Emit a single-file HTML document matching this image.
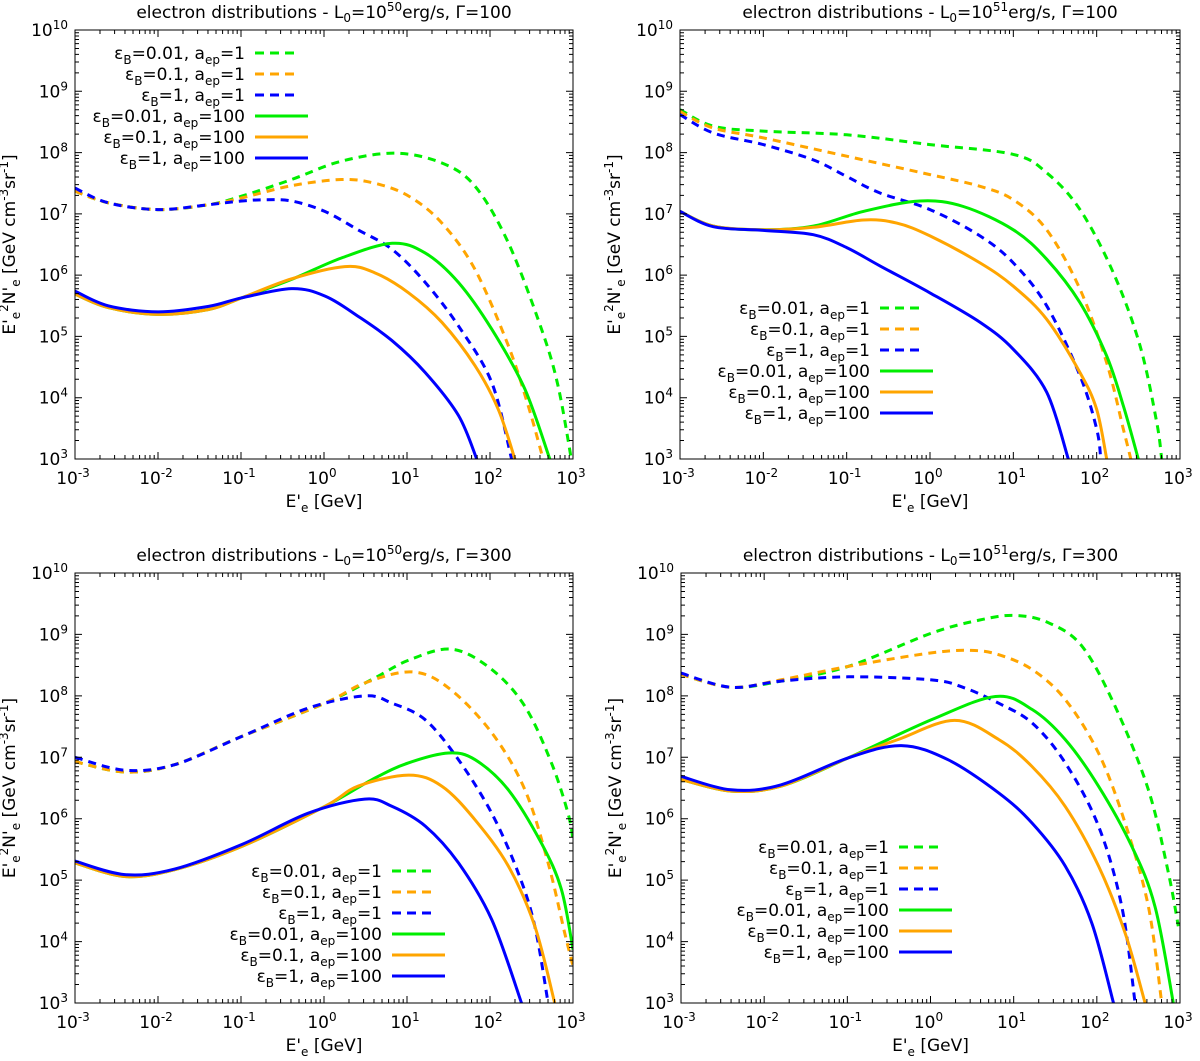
<!DOCTYPE html>
<html><head><meta charset="utf-8"><style>
html,body{margin:0;padding:0;background:#fff;}
svg{display:block;font-family:"DejaVu Sans","Liberation Sans",sans-serif;}
</style></head><body>
<svg id="fig" width="1200" height="1061" viewBox="0 0 1200 1061" xmlns="http://www.w3.org/2000/svg"></svg>
<script>
// ---- data: log10(E'/GeV) and log10(E'^2 N') per series ----
// Top-left: L0=1e50, Gamma=100
const tlE_g1=[-3,-2.6,-2,-1.39,-0.99,-0.39,0.21,0.86,1.42,1.82,2.22,2.62,2.82,2.98];
const tlY_g1=[7.37,7.18,7.07,7.15,7.29,7.56,7.86,7.99,7.83,7.45,6.53,5.12,4.19,3.0];
const tlE_o1=[-3,-2.6,-2,-1.39,-0.99,-0.39,0.21,0.61,1.02,1.42,1.82,2.22,2.46,2.64];
const tlY_o1=[7.37,7.18,7.07,7.15,7.26,7.46,7.56,7.5,7.29,6.85,6.09,4.85,3.87,3.0];
const tlE_b1=[-3,-2.6,-2,-1.39,-0.99,-0.71,-0.39,0.01,0.41,0.82,1.22,1.62,2.02,2.26];
const tlY_b1=[7.42,7.18,7.07,7.15,7.21,7.23,7.21,7.04,6.74,6.42,5.88,5.17,4.25,3.0];
const tlE_g2=[-3,-2.6,-2,-1.39,-0.99,-0.39,0.21,0.82,1.22,1.62,2.02,2.42,2.72];
const tlY_g2=[5.69,5.47,5.36,5.44,5.63,5.93,6.28,6.52,6.36,5.88,5.12,4.14,3.0];
const tlE_o2=[-3,-2.6,-2,-1.39,-0.99,-0.39,0.25,0.61,1.02,1.42,1.82,2.1,2.3];
const tlY_o2=[5.69,5.47,5.36,5.44,5.63,5.94,6.14,6.04,5.71,5.23,4.52,3.81,3.0];
const tlE_b2=[-3,-2.6,-2,-1.39,-0.99,-0.39,0.01,0.41,0.82,1.22,1.62,1.84];
const tlY_b2=[5.74,5.5,5.4,5.49,5.63,5.78,5.66,5.33,4.93,4.41,3.71,3.0];
// Top-right: L0=1e51, Gamma=100
const trE_g1=[-3,-2.6,-2,-1,0,1,1.4,1.8,2.2,2.52,2.72,2.78];
const trY_g1=[8.7,8.43,8.35,8.29,8.13,7.97,7.67,7.07,6.04,4.85,3.6,3.0];
const trE_o1=[-3,-2.6,-2,-1,0,0.6,1,1.4,1.8,2.12,2.32,2.41];
const trY_o1=[8.67,8.4,8.24,7.94,7.64,7.45,7.23,6.74,5.77,4.57,3.49,3.0];
const trE_b1=[-3,-2.6,-2,-1.4,-1,-0.6,0,0.6,1,1.4,1.8,2,2.05];
const trY_b1=[8.62,8.32,8.13,7.88,7.61,7.34,7.07,6.64,6.2,5.5,4.36,3.49,3.0];
const trE_g2=[-3,-2.6,-2,-1.4,-0.8,-0.12,0.4,1,1.4,1.8,2.12,2.32,2.5];
const trY_g2=[7.04,6.8,6.74,6.8,7.04,7.21,7.12,6.74,6.26,5.55,4.68,3.87,3.0];
const trE_o2=[-3,-2.6,-2,-1.4,-0.8,-0.4,0,0.6,1,1.4,1.8,2,2.12];
const trY_o2=[7.04,6.8,6.74,6.78,6.9,6.85,6.64,6.2,5.82,5.28,4.41,3.81,3.0];
const trE_b2=[-3,-2.6,-2,-1.4,-1,-0.6,0,0.6,1,1.4,1.66];
const trY_b2=[7.04,6.79,6.73,6.66,6.45,6.15,5.71,5.23,4.79,4.09,3.0];
// Bottom-left: L0=1e50, Gamma=300
const blE_g1=[-3,-2.4,-1.8,-0.99,0.01,0.61,1.02,1.54,2.02,2.42,2.74,2.94,3.0];
const blY_g1=[6.93,6.76,6.88,7.34,7.88,8.29,8.58,8.76,8.43,7.83,6.91,6.09,5.66];
const blE_o1=[-3,-2.4,-1.8,-0.99,0.01,0.49,1.06,1.5,2.02,2.42,2.7,2.9,3.0];
const blY_o1=[6.93,6.76,6.88,7.34,7.88,8.21,8.39,8.13,7.4,6.47,5.28,4.14,3.6];
const blE_b1=[-3,-2.4,-1.8,-0.99,-0.19,0.49,0.82,1.22,1.62,2.02,2.34,2.54,2.7];
const blY_b1=[7.0,6.79,6.88,7.34,7.8,8.0,7.88,7.61,6.96,6.09,5.12,4.25,3.0];
const blE_g2=[-3,-2.4,-1.8,-0.99,0.01,0.61,1.02,1.5,1.82,2.22,2.62,2.86,3.0];
const blY_g2=[5.28,5.06,5.17,5.55,6.2,6.66,6.91,7.07,6.96,6.47,5.6,4.85,3.87];
const blE_o2=[-3,-2.4,-1.8,-0.99,0.01,0.41,1.02,1.42,1.82,2.22,2.54,2.78];
const blY_o2=[5.28,5.06,5.17,5.55,6.2,6.53,6.71,6.53,5.98,5.23,4.25,3.0];
const blE_b2=[-3,-2.4,-1.8,-0.99,-0.19,0.49,0.82,1.22,1.62,2.02,2.38];
const blY_b2=[5.31,5.09,5.18,5.58,6.09,6.32,6.2,5.88,5.28,4.36,3.0];
// Bottom-right: L0=1e51, Gamma=300
const brE_g1=[-3,-2.4,-1.8,-0.99,0.01,0.61,1.02,1.42,1.82,2.22,2.62,2.86,2.98];
const brY_g1=[8.35,8.14,8.24,8.48,9.02,9.24,9.31,9.19,8.81,7.83,6.47,5.12,4.25];
const brE_o1=[-3,-2.4,-1.8,-0.99,0.01,0.49,0.82,1.22,1.62,2.02,2.34,2.62,2.78];
const brY_o1=[8.35,8.14,8.26,8.48,8.7,8.74,8.67,8.43,7.94,7.07,5.93,4.57,3.0];
const brE_b1=[-3,-2.4,-1.8,-0.99,0.01,0.41,0.82,1.22,1.62,2.02,2.3,2.46];
const brY_b1=[8.37,8.14,8.24,8.31,8.26,8.13,7.88,7.56,6.91,5.88,4.57,3.0];
const brE_g2=[-3,-2.4,-1.8,-0.99,0.01,0.78,1.22,1.62,2.02,2.42,2.7,2.92];
const brY_g2=[6.64,6.45,6.53,6.99,7.61,7.99,7.78,7.29,6.53,5.55,4.57,3.0];
const brE_o2=[-3,-2.4,-1.8,-0.99,-0.39,0.29,0.82,1.22,1.62,2.02,2.34,2.58];
const brY_o2=[6.64,6.45,6.53,6.99,7.29,7.6,7.29,6.85,6.2,5.23,4.14,3.0];
const brE_b2=[-3,-2.4,-1.8,-0.99,-0.35,0.21,0.82,1.22,1.62,1.94,2.2];
const brY_b2=[6.69,6.47,6.55,6.99,7.19,6.96,6.42,5.93,5.23,4.3,3.0];

const xTickLabels=["-3","-2","-1","0","1","2","3"];
const yTickLabels=["3","4","5","6","7","8","9","10"];
const legendLabels=[["0.01","1"],["0.1","1"],["1","1"],["0.01","100"],["0.1","100"],["1","100"]];
const colors=["#00ee00","#ffa500","#0000ff","#00ee00","#ffa500","#0000ff"];

const NS="http://www.w3.org/2000/svg";
const svg=document.getElementById('fig');
function mk(tag,attrs,parent){const e=document.createElementNS(NS,tag);for(const k in attrs)e.setAttribute(k,attrs[k]);(parent||svg).appendChild(e);return e;}

const panels=[
 {id:"tl",x0:75,x1:573,y0:30,y1:459,L:"50",G:"100",series:[[tlE_g1,tlY_g1],[tlE_o1,tlY_o1],[tlE_b1,tlY_b1],[tlE_g2,tlY_g2],[tlE_o2,tlY_o2],[tlE_b2,tlY_b2]],leg:{tx:245,y:53}},
 {id:"tr",x0:680,x1:1180,y0:30,y1:459,L:"51",G:"100",series:[[trE_g1,trY_g1],[trE_o1,trY_o1],[trE_b1,trY_b1],[trE_g2,trY_g2],[trE_o2,trY_o2],[trE_b2,trY_b2]],leg:{tx:870,y:308}},
 {id:"bl",x0:75,x1:573,y0:573,y1:1003,L:"50",G:"300",series:[[blE_g1,blY_g1],[blE_o1,blY_o1],[blE_b1,blY_b1],[blE_g2,blY_g2],[blE_o2,blY_o2],[blE_b2,blY_b2]],leg:{tx:382,y:871}},
 {id:"br",x0:681,x1:1180,y0:573,y1:1003,L:"51",G:"300",series:[[brE_g1,brY_g1],[brE_o1,brY_o1],[brE_b1,brY_b1],[brE_g2,brY_g2],[brE_o2,brY_o2],[brE_b2,brY_b2]],leg:{tx:889,y:847}}
];

function catmull(pts){
  let d="M"+pts[0][0].toFixed(1)+","+pts[0][1].toFixed(1);
  for(let i=0;i<pts.length-1;i++){
    const p0=pts[Math.max(0,i-1)],p1=pts[i],p2=pts[i+1],p3=pts[Math.min(pts.length-1,i+2)];
    const c1=[p1[0]+(p2[0]-p0[0])/6,p1[1]+(p2[1]-p0[1])/6];
    const c2=[p2[0]-(p3[0]-p1[0])/6,p2[1]-(p3[1]-p1[1])/6];
    d+=" C"+c1[0].toFixed(1)+","+c1[1].toFixed(1)+" "+c2[0].toFixed(1)+","+c2[1].toFixed(1)+" "+p2[0].toFixed(1)+","+p2[1].toFixed(1);
  }
  return d;
}

panels.forEach(function(p,pi){
  const g=mk('g',{});
  
  
  const sx=v=>p.x0+(v+3)/6*(p.x1-p.x0);
  const sy=v=>p.y1-(v-3)/7*(p.y1-p.y0);
  const cx=(p.x0+p.x1)/2, cy=(p.y0+p.y1)/2;
  const t=mk('text',{x:cx,y:p.y0-12,'text-anchor':'middle','font-size':17},g);
  
  
  t.innerHTML='electron distributions - L<tspan dy="4" font-size="12">0</tspan><tspan dy="-4">=10</tspan><tspan dy="-7" font-size="12">'+p.L+'</tspan><tspan dy="7">erg/s, Γ='+p.G+'</tspan>';
  const cp=mk('clipPath',{id:'clip'+pi},g);
  mk('rect',{x:p.x0,y:p.y0,width:p.x1-p.x0,height:p.y1-p.y0},cp);
  p.series.forEach(function(s,si){
    const pts=s[0].map((e,i)=>[sx(e),sy(s[1][i])]);
    const path=mk('path',{d:catmull(pts),fill:'none',stroke:colors[si],'stroke-width':3,'clip-path':'url(#clip'+pi+')'},g);
    if(si<3)path.setAttribute('stroke-dasharray','8,6');
    
    
  });
  const fr=mk('rect',{x:p.x0,y:p.y0,width:p.x1-p.x0,height:p.y1-p.y0,fill:'none',stroke:'#000','stroke-width':1},g);
  
  
  let td="";
  for(let d=-3;d<=3;d++){
    const x=sx(d);
    td+="M"+x+","+p.y1+"v-7M"+x+","+p.y0+"v7";
    if(d<3)for(let m=2;m<10;m++){const xm=sx(d+Math.log10(m));td+="M"+xm+","+p.y1+"v-4M"+xm+","+p.y0+"v4";}
  }
  for(let d=3;d<=10;d++){
    const y=sy(d);
    td+="M"+p.x0+","+y+"h7M"+p.x1+","+y+"h-7";
    if(d<10)for(let m=2;m<10;m++){const ym=sy(d+Math.log10(m));td+="M"+p.x0+","+ym+"h4M"+p.x1+","+ym+"h-4";}
  }
  mk('path',{d:td,stroke:'#000','stroke-width':1,fill:'none'},g);
  xTickLabels.forEach(function(l,i){
    const tx=mk('text',{x:sx(i-3)-2,y:p.y1+25,'text-anchor':'middle','font-size':17},g);
    
    
    tx.innerHTML='10<tspan dy="-7" font-size="12">'+l+'</tspan>';
  });
  yTickLabels.forEach(function(l,i){
    const ty=mk('text',{x:p.x0-7,y:sy(i+3)+6,'text-anchor':'end','font-size':17},g);
    
    
    ty.innerHTML='10<tspan dy="-7" font-size="12">'+l+'</tspan>';
  });
  const xt=mk('text',{x:cx,y:p.y1+48,'text-anchor':'middle','font-size':17},g);
  
  
  xt.innerHTML='E\'<tspan dy="5" font-size="12">e</tspan><tspan dy="-5"> [GeV]</tspan>';
  const yt=mk('text',{x:0,y:0,'text-anchor':'middle','font-size':17,transform:'translate('+(p.x0-60)+','+cy+') rotate(-90)'},g);
  
  
  yt.innerHTML='E\'<tspan dy="5" font-size="12">e</tspan><tspan dy="-12" font-size="12">2</tspan><tspan dy="7">N\'</tspan><tspan dy="5" font-size="12">e</tspan><tspan dy="-5"> [GeV cm</tspan><tspan dy="-7" font-size="12">-3</tspan><tspan dy="7">sr</tspan><tspan dy="-7" font-size="12">-1</tspan><tspan dy="7">]</tspan>';
  const lg=mk('g',{},g);
  
  
  legendLabels.forEach(function(l,i){
    const y=p.leg.y+i*21;
    const e=mk('g',{},lg);
    
    
    const tx=mk('text',{x:p.leg.tx,y:y+6,'text-anchor':'end','font-size':17},e);
    tx.innerHTML='ε<tspan dy="5" font-size="12">B</tspan><tspan dy="-5">='+l[0]+', a</tspan><tspan dy="5" font-size="12">ep</tspan><tspan dy="-5">='+l[1]+'</tspan>';
    const ln=mk('line',{x1:p.leg.tx+10,x2:p.leg.tx+(i<3?55:63),y1:y,y2:y,stroke:colors[i],'stroke-width':3},e);
    if(i<3)ln.setAttribute('stroke-dasharray','9,6');
  });
});
</script>
</body></html>
